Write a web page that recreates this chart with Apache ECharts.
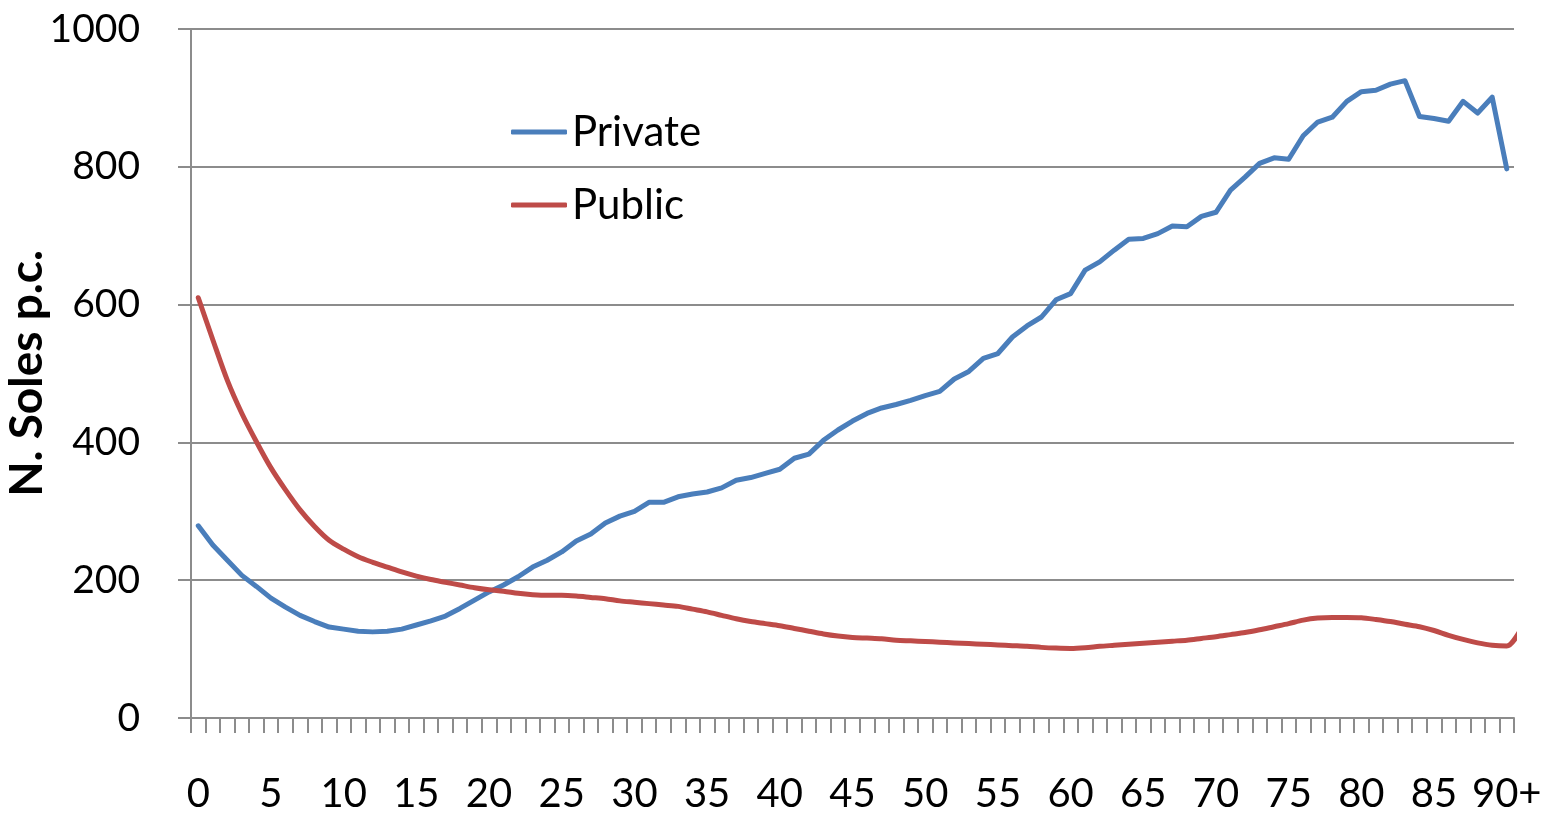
<!DOCTYPE html>
<html><head><meta charset="utf-8">
<script src="https://cdn.jsdelivr.net/npm/echarts@6/dist/echarts.min.js"></script>
<style>html,body{margin:0;padding:0;background:#fff}#c{width:1549px;height:813px}</style>
</head><body><div id="c"></div>
<script>
const ages = [];
for (let a = 0; a <= 89; a++) ages.push(String(a));
ages.push('90+');
const privateVals = [279,251,229,207,191,174,161,149,140,132,129,126,125,126,129,135,141,148,159,171,183,193,205,219,229,241,257,267,283,293,300,313,313,321,325,328,334,345,349,355,361,377,383,403,418,431,442,450,455,461,468,474,492,503,522,529,553,569,582,607,616,650,662,679,695,696,703,714,713,728,734,766,785,805,813,811,845,865,872,895,909,911,920,925,873,870,866,895,878,901,797];
const publicVals = [610,549,490,442,401,363,331,302,278,258,245,234,226,219,212,206,201,197,193,189,186,184,181,179,178,178,177,175,173,170,168,166,164,162,158,154,149,144,140,137,134,130,126,122,119,117,116,115,113,112,111,110,109,108,107,106,105,104,102.5,101.5,101,102,104,105.5,107,108.5,110,111.5,113,115.5,118,121,124,128,132.5,137,142,145,146,146,145.5,143,140,136,132.5,127,120,114,109,105.5,104.5,130];
const seriesNames = ['Private','Public'];
const yTicks = [0,200,400,600,800,1000];

const font = 'Lato, "Open Sans", "Liberation Sans", sans-serif';
const chart = echarts.init(document.getElementById('c'));
chart.setOption({
  animation: false,
  backgroundColor: '#fff',
  grid: {left: 191, right: 35, top: 29, bottom: 95, containLabel: false, outerBoundsMode: 'none'},
  legend: {
    orient: 'vertical', left: 506, top: 106, itemGap: 31,
    itemWidth: 56, itemHeight: 5, icon: 'roundRect',
    textStyle: {fontSize: 42, fontFamily: font, color: '#000'},
    data: seriesNames
  },
  xAxis: {
    type: 'category', data: ages, boundaryGap: true,
    axisLine: {lineStyle: {color: '#8c8c8c', width: 2}},
    axisTick: {show: true, interval: 0, length: 15, lineStyle: {color: '#8c8c8c', width: 2}},
    axisLabel: {interval: 4, fontSize: 40, fontFamily: font, color: '#000', margin: 56, hideOverlap: false},
    splitLine: {show: false}
  },
  yAxis: {
    type: 'value', min: 0, max: 1000, interval: 200,
    name: 'N. Soles p.c.', nameLocation: 'middle', nameGap: 141, nameMoveOverlap: false,
    nameTextStyle: {fontSize: 46, fontWeight: 'bold', fontFamily: font, color: '#000'},
    axisLine: {show: true, lineStyle: {color: '#8c8c8c', width: 2}},
    axisTick: {show: true, length: 13, lineStyle: {color: '#8c8c8c', width: 2}},
    axisLabel: {fontSize: 39, fontFamily: font, color: '#000', margin: 51,
      formatter: v => yTicks.includes(v) ? String(v) : ''},
    splitLine: {lineStyle: {color: '#8c8c8c', width: 2}}
  },
  series: [
    {name: seriesNames[0], type: 'line', data: privateVals, symbol: 'none',
     itemStyle: {color: '#4a7ebb'}, lineStyle: {color: '#4a7ebb', width: 5, cap: 'round', join: 'round'}},
    {name: seriesNames[1], type: 'line', data: publicVals, symbol: 'none', smooth: 0.3,
     itemStyle: {color: '#be4b48'}, lineStyle: {color: '#be4b48', width: 5, cap: 'round', join: 'round'}}
  ]
});
</script></body></html>
